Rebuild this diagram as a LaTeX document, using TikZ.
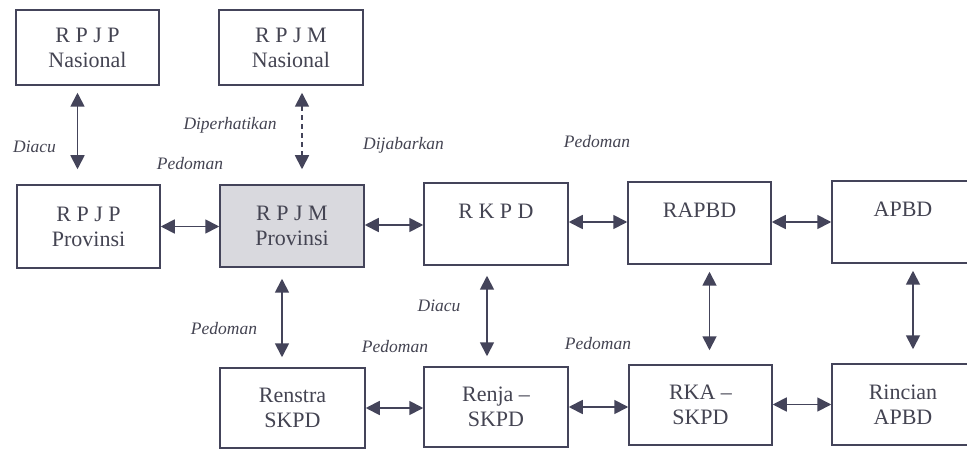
\documentclass[tikz,border=0pt]{standalone}
\usepackage{fontspec}
\setmainfont{Liberation Serif}
\usetikzlibrary{arrows.meta}
\definecolor{ln}{HTML}{44445A}
\definecolor{tx}{HTML}{444452}
\definecolor{fl}{HTML}{D9D9DE}
\begin{document}
\begin{tikzpicture}[x=1pt,y=-1pt,
  box/.style={draw=ln,line width=1.5pt,rectangle,minimum width=143pt,minimum height=80pt,
    align=center,text=tx,font=\fontsize{22}{25}\selectfont,inner sep=0pt},
  lbl/.style={text=tx,font=\fontsize{17.5}{20}\selectfont\itshape,inner sep=0pt},
  arr/.style={draw=ln,line width=1.8pt,{Triangle[length=14pt,width=14pt]}-{Triangle[length=14pt,width=14pt]}},
  darr/.style={arr,dash pattern=on 5pt off 4pt}]
\clip (0,0) rectangle (967,449);
\fill[white] (0,0) rectangle (967,449);
% top row
\node[box,minimum height=75pt] (rpjpN) at (87.5,47.5) {R P J P\\Nasional};
\node[box,minimum height=75pt,minimum width=144pt] (rpjmN) at (291,47.5) {R P J M\\Nasional};
% middle row
\node[box,minimum height=83pt] (rpjpP) at (88.5,226.5) {R P J P\\Provinsi};
\node[box,minimum height=82pt,minimum width=144pt,fill=fl] (rpjmP) at (292,226) {R P J M\\Provinsi};
\node[box,minimum height=82pt,minimum width=144pt] (rkpd) at (496,224) {R K P D\\\mbox{}};
\node[box,minimum height=82pt] (rapbd) at (699.5,223) {RAPBD\\\mbox{}};
\node[box,minimum height=82pt,minimum width=142pt] (apbd) at (903,222) {APBD\\\mbox{}};
% bottom row
\node[box,minimum width=145pt] (renstra) at (292.5,408) {Renstra\\SKPD};
\node[box,minimum width=144pt] (renja) at (496,407) {Renja --\\SKPD};
\node[box] (rka) at (700.5,405) {RKA --\\SKPD};
\node[box,minimum width=142pt,minimum height=81pt] (rincian) at (903,404.5) {Rincian\\APBD};
% vertical connectors
\draw[arr,shorten <=7pt,shorten >=15pt] ([xshift=-10pt]rpjpN.south) -- ([xshift=-10pt]rpjpN.south |- rpjpP.north);
\draw[darr,shorten <=7pt,shorten >=15pt] ([xshift=11pt]rpjmN.south) -- ([xshift=11pt]rpjmN.south |- rpjmP.north);
\draw[arr,shorten <=11pt,shorten >=10pt] ([xshift=-10pt]rpjmP.south) -- ([xshift=-10pt]rpjmP.south |- renstra.north);
\draw[arr,shorten <=10pt,shorten >=10pt] ([xshift=-9pt]rkpd.south) -- ([xshift=-9pt]rkpd.south |- renja.north);
\draw[arr,shorten <=7pt,shorten >=14pt] ([xshift=10pt]rapbd.south) -- ([xshift=10pt]rapbd.south |- rka.north);
\draw[arr,shorten <=7pt,shorten >=14pt] ([xshift=10pt]apbd.south) -- ([xshift=10pt]apbd.south |- rincian.north);
% horizontal connectors
\draw[arr] (rpjpP.east) -- (rpjpP.east -| rpjmP.west);
\draw[arr] ([yshift=1pt]rpjmP.east) -- ([yshift=1pt]rpjmP.east -| rkpd.west);
\draw[arr] ([yshift=2pt]rkpd.east) -- ([yshift=2pt]rkpd.east -| rapbd.west);
\draw[arr] ([yshift=1pt]rapbd.east) -- ([yshift=1pt]rapbd.east -| apbd.west);
\draw[arr] (renstra.east) -- (renstra.east -| renja.west);
\draw[arr] (renja.east) -- (renja.east -| rka.west);
\draw[arr] ([yshift=0.5pt]rka.east) -- ([yshift=0.5pt]rka.east -| rincian.west);
% labels
\node[lbl] (l1) at (34.5,147) {Diacu};
\node[lbl] (l2) at (230,125) {Diperhatikan};
\node[lbl] (l3) at (190,164) {Pedoman};
\node[lbl] (l4) at (403.5,145) {Dijabarkan};
\node[lbl] (l5) at (597,142) {Pedoman};
\node[lbl] (l6) at (439,306) {Diacu};
\node[lbl] (l7) at (224,329) {Pedoman};
\node[lbl] (l8) at (395,347) {Pedoman};
\node[lbl] (l9) at (598,344) {Pedoman};
\end{tikzpicture}
\end{document}
